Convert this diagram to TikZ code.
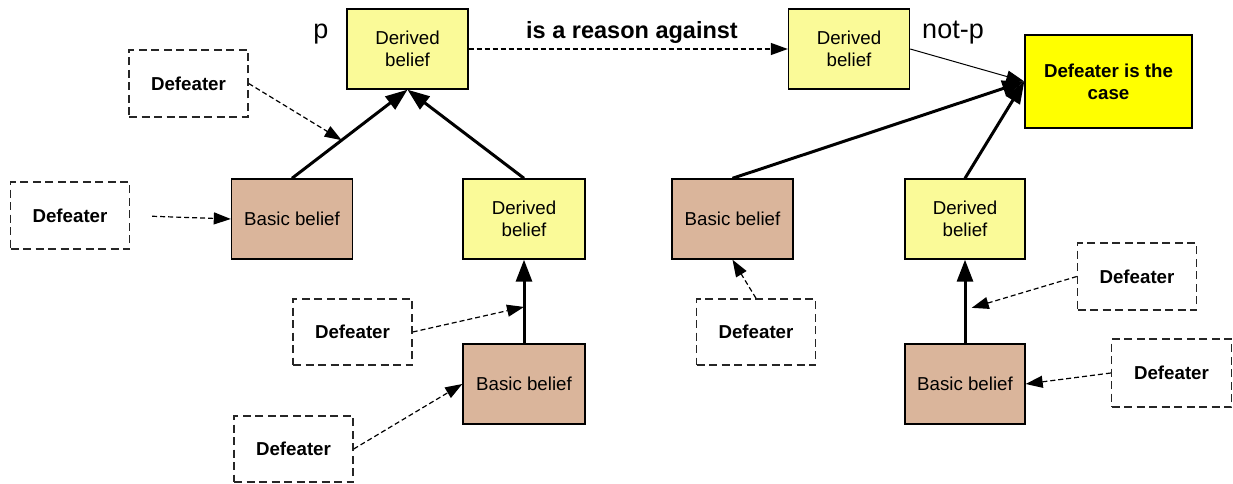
\documentclass[tikz,border=0pt]{standalone}
\usepackage{fontspec}
\setmainfont{Liberation Sans}
\usetikzlibrary{arrows.meta,calc}

\definecolor{derivedfill}{RGB}{250,250,152}
\definecolor{basicfill}{RGB}{218,181,155}
\definecolor{casefill}{RGB}{255,255,0}

\tikzset{
  boxfont/.style={font=\fontsize{18.7}{22}\selectfont},
  box/.style={draw=black, line width=1.4pt, minimum width=121pt, minimum height=80pt,
              inner sep=0pt, align=center, boxfont},
  derived/.style={box, fill=derivedfill},
  basic/.style={box, fill=basicfill},
  casebox/.style={box, fill=casefill, minimum width=167pt, minimum height=93pt,
                  font=\fontsize{18.7}{22}\selectfont\bfseries},
  defeater/.style={draw=black!85, line width=1.4pt, dash pattern=on 8pt off 4.5pt,
                   minimum width=119pt, minimum height=67pt, inner sep=0pt,
                   font=\fontsize{18.7}{22}\selectfont\bfseries},
  support/.style={line width=3pt, -{Triangle[length=22pt,width=16pt]}},
  attack/.style={line width=1.2pt, dash pattern=on 5pt off 3pt,
                 -{Triangle[length=17pt,width=12pt]}},
  thinarrow/.style={line width=1pt, -{Triangle[length=18pt,width=12pt]}},
  biglabel/.style={font=\fontsize{27}{30}\selectfont, inner sep=0pt, anchor=base},
}

\begin{document}
\begin{tikzpicture}[x=1pt, y=-1pt]
  \fill[white] (0,0) rectangle (1233,484);
  \useasboundingbox (0,0) rectangle (1233,484);

  % beliefs
  \node[derived] (d1) at (407.5,49) {Derived\\belief};
  \node[derived] (d2) at (849,49) {Derived\\belief};
  \node[casebox] (dc) at (1108.5,81.5) {Defeater is the\\case};
  \node[basic]   (b1) at (292,219) {Basic belief};
  \node[derived, minimum width=122pt] (d3) at (524,219) {Derived\\belief};
  \node[basic]   (b2) at (732.5,219) {Basic belief};
  \node[derived, minimum width=120pt] (d4) at (965,219) {Derived\\belief};
  \node[basic, minimum width=122pt] (b3) at (524,384) {Basic belief};
  \node[basic, minimum width=120pt] (b4) at (965,384) {Basic belief};

  % defeaters
  \node[defeater] (f1) at (188.5,83.5) {Defeater};
  \node[defeater] (f2) at (70,215.5) {Defeater};
  \node[defeater, minimum height=66pt] (f3) at (352.5,332) {Defeater};
  \node[defeater, minimum height=66pt] (f4) at (293.5,449) {Defeater};
  \node[defeater, minimum height=66pt] (f5) at (756,332) {Defeater};
  \node[defeater] (f6) at (1137,276.5) {Defeater};
  \node[defeater, minimum width=120pt, minimum height=68pt] (f7) at (1171.5,373) {Defeater};

  % labels
  \node[biglabel] (lp) at (321,39) {p};
  \node[biglabel] (lnp) at (953,39) {not-p};
  \node[font=\fontsize{23.5}{26}\selectfont\bfseries, inner sep=0pt] (lbl) at (632,32.5) {is a reason against};

  % support relations
  \draw[support] (b1.north) -- coordinate[pos=0.43] (m1) (d1.south);
  \draw[support] (d3.north) -- (d1.south);
  \draw[support] (b3.north) -- coordinate[pos=0.435] (m2) (d3.south);
  \draw[support] (b2.north) -- (dc.west);
  \draw[support] (d4.north) -- (dc.west);
  \draw[support] (b4.north) -- coordinate[pos=0.4] (m3) (d4.south);
  \draw[thinarrow] (d2.east) -- (dc.west);

  % reason against
  \draw[attack] (d1.east) -- (d2.west);

  % defeater relations
  \draw[attack] (f1.east) -- (m1);
  \draw[attack, shorten <=22pt] (f2.east) -- (b1.west);
  \draw[attack] (f3.east) -- (m2);
  \draw[attack] (f4.east) -- (b3.west);
  \draw[attack] (f5.north) -- (b2.south);
  \draw[attack, shorten >=7pt] (f6.west) -- (m3);
  \draw[attack] (f7.west) -- (b4.east);
\end{tikzpicture}
\end{document}
